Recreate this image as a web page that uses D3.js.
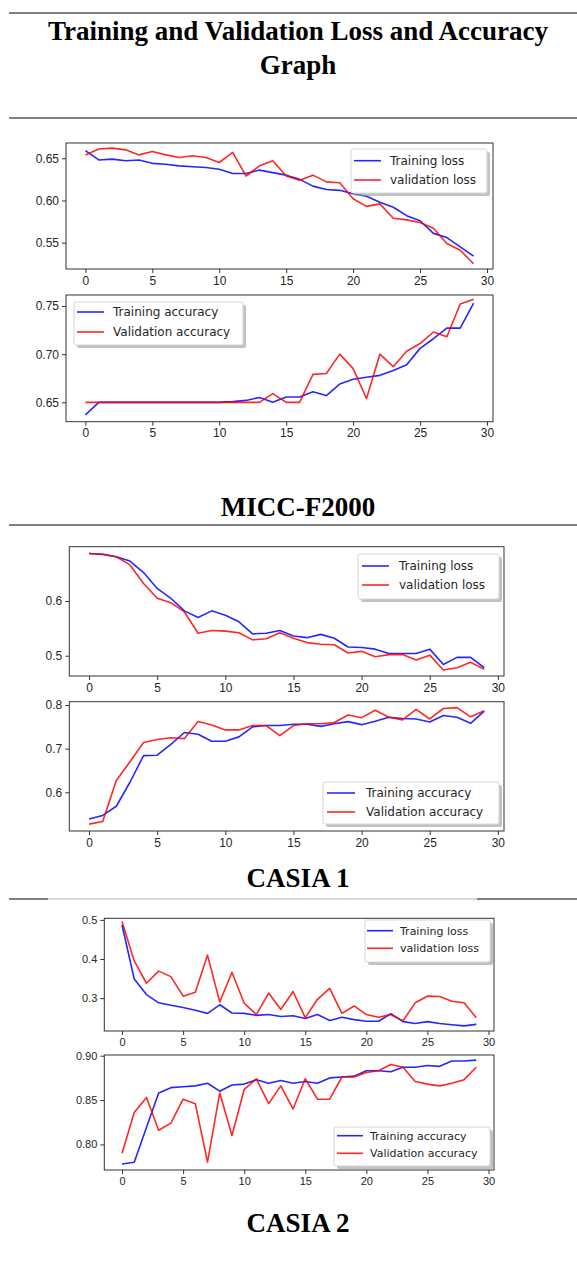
<!DOCTYPE html>
<html><head><meta charset="utf-8">
<script src="https://cdn.jsdelivr.net/npm/d3@7"></script>
<style>body{margin:0;background:#fff}svg{display:block}</style>
</head><body><svg id="c" width="577" height="1280"></svg>
<script>
// ---------- DATA ----------
const epochs = [0,1,2,3,4,5,6,7,8,9,10,11,12,13,14,15,16,17,18,19,20,21,22,23,24,25,26,27,28,29];
const xTicks = [0,5,10,15,20,25,30];

// MICC-F2000
const miccTrainLoss = [0.659,0.648,0.649,0.647,0.648,0.644,0.643,0.641,0.640,0.639,0.637,0.632,0.632,0.636,0.633,0.630,0.625,0.617,0.613,0.612,0.608,0.605,0.598,0.592,0.582,0.576,0.561,0.556,0.545,0.534];
const miccValLoss   = [0.654,0.661,0.662,0.660,0.654,0.658,0.654,0.651,0.653,0.651,0.645,0.657,0.629,0.641,0.647,0.629,0.624,0.630,0.622,0.621,0.602,0.593,0.596,0.579,0.577,0.574,0.567,0.549,0.541,0.525];
const miccTrainAcc  = [0.637,0.650,0.650,0.650,0.650,0.650,0.650,0.650,0.650,0.650,0.650,0.6507,0.652,0.655,0.650,0.6555,0.6555,0.661,0.657,0.669,0.674,0.676,0.678,0.683,0.689,0.706,0.716,0.727,0.727,0.753];
const miccValAcc    = [0.650,0.650,0.650,0.650,0.650,0.650,0.650,0.650,0.650,0.650,0.650,0.650,0.650,0.650,0.659,0.650,0.650,0.679,0.680,0.700,0.685,0.654,0.700,0.687,0.703,0.711,0.723,0.718,0.752,0.757];

// CASIA 1
const casia1TrainLoss = [0.687,0.685,0.681,0.673,0.652,0.623,0.605,0.582,0.570,0.582,0.574,0.562,0.540,0.541,0.546,0.536,0.533,0.539,0.532,0.516,0.515,0.512,0.504,0.504,0.504,0.512,0.484,0.497,0.497,0.478];
const casia1ValLoss   = [0.687,0.686,0.681,0.666,0.632,0.605,0.597,0.580,0.541,0.546,0.545,0.542,0.529,0.531,0.542,0.532,0.524,0.521,0.520,0.505,0.508,0.498,0.502,0.502,0.492,0.501,0.474,0.478,0.488,0.475];
const casia1TrainAcc  = [0.539,0.547,0.568,0.623,0.684,0.685,0.710,0.737,0.733,0.717,0.717,0.727,0.750,0.753,0.753,0.756,0.756,0.751,0.757,0.762,0.755,0.763,0.772,0.769,0.768,0.761,0.776,0.772,0.758,0.786];
const casia1ValAcc    = [0.527,0.533,0.627,0.670,0.714,0.721,0.725,0.723,0.762,0.754,0.743,0.743,0.753,0.753,0.730,0.753,0.757,0.757,0.760,0.777,0.771,0.788,0.772,0.766,0.790,0.768,0.792,0.794,0.773,0.787];

// CASIA 2
const casia2TrainLoss = [0.487,0.349,0.309,0.288,0.282,0.276,0.269,0.261,0.283,0.262,0.261,0.256,0.258,0.253,0.255,0.248,0.258,0.243,0.251,0.245,0.241,0.241,0.260,0.240,0.235,0.240,0.235,0.232,0.229,0.233];
const casia2ValLoss   = [0.496,0.395,0.338,0.369,0.355,0.305,0.315,0.410,0.290,0.366,0.287,0.258,0.313,0.271,0.317,0.250,0.297,0.325,0.261,0.280,0.258,0.251,0.258,0.242,0.288,0.305,0.304,0.292,0.288,0.250];
const casia2TrainAcc  = [0.778,0.780,0.819,0.858,0.864,0.865,0.866,0.869,0.860,0.867,0.868,0.873,0.869,0.872,0.869,0.871,0.869,0.875,0.876,0.877,0.883,0.883,0.882,0.887,0.887,0.889,0.888,0.894,0.894,0.895];
const casia2ValAcc    = [0.790,0.836,0.853,0.816,0.824,0.851,0.846,0.780,0.858,0.810,0.862,0.874,0.846,0.866,0.840,0.874,0.851,0.851,0.876,0.876,0.881,0.883,0.890,0.887,0.871,0.868,0.866,0.869,0.873,0.887];

const lossLabels = ["Training loss","validation loss"];
const accLabels  = ["Training accuracy","Validation accuracy"];
const headings = ["MICC-F2000","CASIA 1","CASIA 2"];
const mainTitle = ["Training and Validation Loss and Accuracy","Graph"];

// ---------- DRAW ----------
const svg = d3.select('#c');
const serif = "'Liberation Serif','Times New Roman',serif";
const gray = '#808080';

function hline(y, x0, x1, w, c){
  svg.append('line').attr('x1',x0).attr('x2',x1).attr('y1',y).attr('y2',y)
    .attr('stroke',c||gray).attr('stroke-width',w||1.8);
}
function heading(text, y){
  svg.append('text').attr('x',298).attr('y',y).attr('text-anchor','middle')
    .style('font-family',serif).style('font-weight','bold').style('font-size','27px')
    .attr('fill','#000').text(text);
}

hline(13, 9, 577);
heading(mainTitle[0], 40);
heading(mainTitle[1], 74);
hline(118, 9, 577);
heading(headings[0], 516);
hline(525, 9, 577);
heading(headings[1], 887);
hline(899, 9, 577, 1, '#b0b0b0');
hline(899, 9, 48);
hline(899, 477, 577);
heading(headings[2], 1232);

function panel(p){
  const x = d3.scaleLinear().domain([-1.45, 30.45]).range([p.x0, p.x1]);
  const y = d3.scaleLinear().domain(p.yDom).range([p.y1, p.y0]);
  const g = svg.append('g').style('font-family',"'DejaVu Sans',sans-serif");

  const ax = g.append('g').attr('transform',`translate(0,${p.y1})`)
    .call(d3.axisBottom(x).tickValues(xTicks).tickSize(4).tickPadding(3).tickFormat(d3.format('d')));
  const ay = g.append('g').attr('transform',`translate(${p.x0},0)`)
    .call(d3.axisLeft(y).tickValues(p.yTicks).tickSize(4).tickPadding(3).tickFormat(d3.format(p.fmt)));
  [ax, ay].forEach(a => {
    a.select('.domain').remove();
    a.selectAll('line').attr('stroke','#333');
    a.selectAll('text').attr('fill','#262626').style('font-size', p.fs + 'px');
  });

  const line = d3.line().x((d,i) => x(epochs[i])).y(d => y(d));
  g.append('path').datum(p.a).attr('d', line).attr('fill','none')
    .attr('stroke','#0000ff').attr('stroke-opacity',0.85).attr('stroke-width',1.6).attr('stroke-linejoin','round');
  g.append('path').datum(p.b).attr('d', line).attr('fill','none')
    .attr('stroke','#ff0000').attr('stroke-opacity',0.85).attr('stroke-width',1.6).attr('stroke-linejoin','round');

  g.append('rect').attr('x',p.x0).attr('y',p.y0).attr('width',p.x1-p.x0).attr('height',p.y1-p.y0)
    .attr('fill','none').attr('stroke','#333').attr('stroke-width',1);

  // legend
  const L = p.leg;
  g.append('rect').attr('x',L.x+3).attr('y',L.y+3).attr('width',L.w).attr('height',L.h).attr('rx',2)
    .attr('fill','#9a9a9a').attr('opacity',0.6);
  g.append('rect').attr('x',L.x).attr('y',L.y).attr('width',L.w).attr('height',L.h).attr('rx',2)
    .attr('fill','#fff').attr('stroke','#d6d6d6').attr('stroke-width',1);
  const cols = ['#0000ff','#ff0000'];
  p.labels.forEach((t,i) => {
    const yy = L.ey[i];
    g.append('line').attr('x1',L.lx0).attr('x2',L.lx1).attr('y1',yy).attr('y2',yy)
      .attr('stroke',cols[i]).attr('stroke-opacity',0.85).attr('stroke-width',1.6);
    g.append('text').attr('x',L.tx).attr('y',yy).attr('dy','0.35em').attr('fill','#262626')
      .style('font-size',p.fs+'px').text(t);
  });
}

panel({x0:66, x1:493, y0:143, y1:269, yDom:[0.5188,0.6681], yTicks:[0.55,0.60,0.65], fmt:'.2f', fs:12,
  a:miccTrainLoss, b:miccValLoss, labels:lossLabels,
  leg:{x:351,y:149,w:136,h:44,ey:[160.7,180],lx0:354,lx1:381,tx:390}});
panel({x0:66, x1:493, y0:295, y1:421.7, yDom:[0.6299,0.7614], yTicks:[0.65,0.70,0.75], fmt:'.2f', fs:12,
  a:miccTrainAcc, b:miccValAcc, labels:accLabels,
  leg:{x:74,y:302,w:169,h:43,ey:[312,332],lx0:77,lx1:104,tx:113}});
panel({x0:69.3, x1:504, y0:546.7, y1:676, yDom:[0.4629,0.6993], yTicks:[0.5,0.6], fmt:'.1f', fs:12,
  a:casia1TrainLoss, b:casia1ValLoss, labels:lossLabels,
  leg:{x:358,y:554,w:141,h:45,ey:[566,585],lx0:362,lx1:389,tx:399}});
panel({x0:69.3, x1:504, y0:701.7, y1:831, yDom:[0.5113,0.8076], yTicks:[0.6,0.7,0.8], fmt:'.1f', fs:12,
  a:casia1TrainAcc, b:casia1ValAcc, labels:accLabels,
  leg:{x:323,y:782,w:176,h:42,ey:[793,812],lx0:327,lx1:355,tx:366}});
panel({x0:104.3, x1:494, y0:918.3, y1:1031, yDom:[0.216,0.504], yTicks:[0.3,0.4,0.5], fmt:'.1f', fs:11,
  a:casia2TrainLoss, b:casia2ValLoss, labels:lossLabels,
  leg:{x:365,y:920,w:125,h:42,ey:[930.7,948.3],lx0:367,lx1:393,tx:400}});
panel({x0:104.3, x1:494, y0:1055, y1:1170, yDom:[0.7712,0.9008], yTicks:[0.80,0.85,0.90], fmt:'.2f', fs:11,
  a:casia2TrainAcc, b:casia2ValAcc, labels:accLabels,
  leg:{x:334,y:1127,w:156,h:39,ey:[1135.7,1153.3],lx0:337,lx1:363,tx:370}});
</script></body></html>
